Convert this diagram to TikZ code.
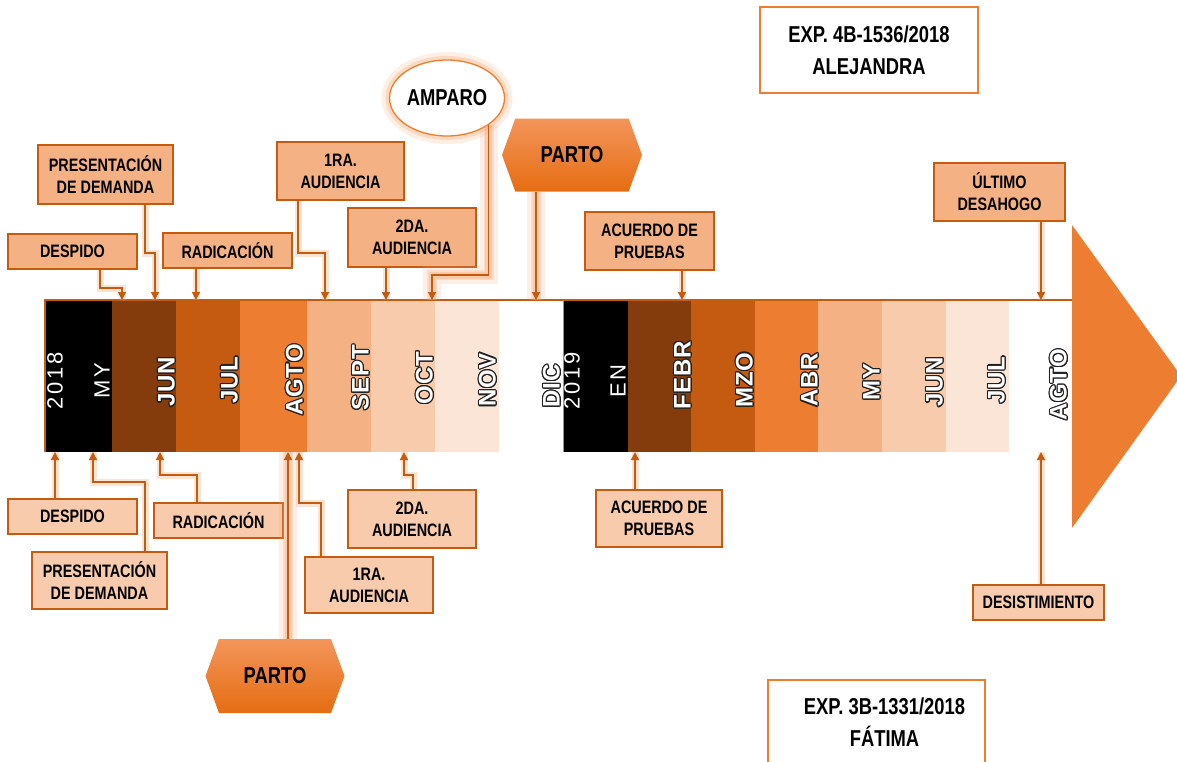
\documentclass[tikz,border=0pt]{standalone}
\usepackage{fontspec}
\setmainfont{Liberation Sans}
\newfontfamily\boxfont{Liberation Sans}[FakeStretch=0.8]
\newfontfamily\thinfont{Liberation Sans}[LetterSpace=12]
\newfontfamily\monfont{Liberation Sans}[LetterSpace=4]
\usepackage{contour}
\contourlength{1.1pt}
\usetikzlibrary{arrows.meta,shapes.geometric,shapes.symbols}
\definecolor{cDark}{HTML}{843C0C}
\definecolor{cMid}{HTML}{C55A11}
\definecolor{cOr}{HTML}{ED7D31}
\definecolor{cLt}{HTML}{F4B183}
\definecolor{cLtb}{HTML}{F8CBAD}
\definecolor{cLtc}{HTML}{FBE5D6}
\definecolor{hexTop}{HTML}{F3955A}
\definecolor{hexBot}{HTML}{E56D12}
\definecolor{glowc}{HTML}{F4A56E}
\definecolor{outl}{HTML}{202020}
\newcommand{\ol}[1]{\contour{outl}{#1}}
\begin{document}
\begin{tikzpicture}[x=1pt,y=-1pt,
  tbox/.style={draw=cMid, line width=1.3pt, fill=cLt, align=center, inner sep=0pt,
    font=\boxfont\bfseries\fontsize{18}{22}\selectfont},
  bbox/.style={tbox, fill=cLtb},
  expbox/.style={draw=cOr, line width=1.3pt, fill=white, align=center, inner sep=0pt,
    font=\boxfont\bfseries\fontsize{23}{32}\selectfont},
  hexa/.style={shape=signal, signal to=east and west, signal pointer angle=140,
    top color=hexTop, bottom color=hexBot, draw=none, inner sep=0pt,
    minimum width=140pt, minimum height=73pt,
    font=\boxfont\bfseries\fontsize{23}{26}\selectfont},
  mon/.style={rotate=90, inner sep=0pt, text=white,
    font=\monfont\bfseries\fontsize{24}{24}\selectfont},
  monthin/.style={rotate=90, inner sep=0pt, text=white,
    font=\thinfont\fontsize{22}{22}\selectfont},
  conn/.style={draw=cMid, line width=1.5pt, -{Triangle[length=8pt,width=8pt]},
    preaction={draw=glowc, line width=7pt, opacity=0.3, arrows=-}},
  bigconn/.style={conn, preaction={draw=glowc, line width=18pt, opacity=0.18, arrows=-},
    preaction={draw=glowc, line width=10pt, opacity=0.25, arrows=-}}
]
\useasboundingbox (0,0) rectangle (1177,761);

% ---- timeline segments ----
\fill[black]  (45,300) rectangle (112,452);
\fill[cDark]  (112,300) rectangle (176,452);
\fill[cMid]   (176,300) rectangle (240,452);
\fill[cOr]    (240,300) rectangle (307,452);
\fill[cLt]    (307,300) rectangle (371,452);
\fill[cLtb]   (371,300) rectangle (435,452);
\fill[cLtc]   (435,300) rectangle (499,452);
\fill[white]  (499,300) rectangle (563,452);
\fill[black]  (563,300) rectangle (628,452);
\fill[cDark]  (628,300) rectangle (691,452);
\fill[cMid]   (691,300) rectangle (755,452);
\fill[cOr]    (755,300) rectangle (818,452);
\fill[cLt]    (818,300) rectangle (882,452);
\fill[cLtb]   (882,300) rectangle (946,452);
\fill[cLtc]   (946,300) rectangle (1009,452);
\fill[white]  (1009,300) rectangle (1072,452);
\draw[cMid, line width=1.3pt] (45,452) -- (45,300) -- (1072,300);
\draw[cOr, line width=1pt] (563,300) -- (563,452);
\fill[cOr] (1072,225) -- (1181,376) -- (1072,528) -- cycle;

% ---- month labels ----
\node[monthin] (m1) at (55,381) {2018};
\node[monthin] (m2) at (102,381) {MY};
\node[mon] (m3) at (167,382) {\ol{JUN}};
\node[mon] (m4) at (230,380) {\ol{JUL}};
\node[mon] (m5) at (295,380) {\ol{AGTO}};
\node[mon] (m6) at (361,378) {\ol{SEPT}};
\node[mon] (m7) at (425,378) {\ol{OCT}};
\node[mon] (m8) at (488,380) {\ol{NOV}};
\node[mon] (m9) at (552,386) {\ol{DIC}};
\node[monthin] (m10) at (572,381) {2019};
\node[monthin] (m11) at (618,381) {EN};
\node[mon] (m12) at (683,375) {\ol{FEBR}};
\node[mon] (m13) at (745,380) {\ol{MZO}};
\node[mon] (m14) at (810,380) {\ol{ABR}};
\node[mon] (m15) at (872,382) {\ol{MY}};
\node[mon] (m16) at (935,382) {\ol{JUN}};
\node[mon] (m17) at (997,380) {\ol{JUL}};
\node[mon] (m18) at (1059,385) {\ol{AGTO}};

% ---- connector end points on the bar ----
\coordinate (ta1) at (122,300);
\coordinate (ta2) at (155,300);
\coordinate (ta3) at (196,300);
\coordinate (ta4) at (325,300);
\coordinate (ta5) at (386,300);
\coordinate (ta6) at (432,300);
\coordinate (ta7) at (536,300);
\coordinate (ta8) at (682,300);
\coordinate (ta9) at (1041,300);
\coordinate (ba1) at (55,452);
\coordinate (ba2) at (93,452);
\coordinate (ba3) at (160,452);
\coordinate (ba4) at (288,452);
\coordinate (ba5) at (299,452);
\coordinate (ba6) at (404,452);
\coordinate (ba7) at (635,452);
\coordinate (ba8) at (1041,452);

% ---- top nodes ----
\node[tbox, minimum width=129pt, minimum height=35pt] (tdesp) at (72.5,251.5) {DESPIDO};
\node[tbox, minimum width=135pt, minimum height=59pt] (tpres) at (105.5,174.5) {PRESENTACIÓN\\DE DEMANDA};
\node[tbox, minimum width=129pt, minimum height=35pt] (trad) at (227.5,250.5) {RADICACIÓN};
\node[tbox, minimum width=127pt, minimum height=58pt] (t1ra) at (340.5,171) {1RA.\\AUDIENCIA};
\node[tbox, minimum width=128pt, minimum height=59pt] (t2da) at (412,237.5) {2DA.\\AUDIENCIA};
\node[ellipse, draw=cOr, line width=1.3pt, fill=white, minimum width=115pt, minimum height=76pt,
  inner sep=0pt, font=\boxfont\bfseries\fontsize{23}{26}\selectfont,
  preaction={draw=glowc, line width=16pt, opacity=0.18},
  preaction={draw=glowc, line width=8pt, opacity=0.3}] (amparo) at (447,98) {AMPARO};
\node[hexa] (tparto) at (572,155) {PARTO};
\node[tbox, minimum width=129pt, minimum height=58pt] (tacu) at (649.5,241) {ACUERDO DE\\PRUEBAS};
\node[tbox, minimum width=131pt, minimum height=58pt] (tult) at (999.5,192) {ÚLTIMO\\DESAHOGO};
\node[expbox, minimum width=218pt, minimum height=86pt] (alej) at (869,50) {EXP. 4B-1536/2018\\ALEJANDRA};

% ---- bottom nodes ----
\node[bbox, minimum width=129pt, minimum height=35pt] (bdesp) at (72.5,516.5) {DESPIDO};
\node[bbox, minimum width=135pt, minimum height=57pt] (bpres) at (99.5,580.5) {PRESENTACIÓN\\DE DEMANDA};
\node[bbox, minimum width=129pt, minimum height=35pt] (brad) at (218.5,520.5) {RADICACIÓN};
\node[bbox, minimum width=128pt, minimum height=56pt] (b1ra) at (369,585) {1RA.\\AUDIENCIA};
\node[bbox, minimum width=128pt, minimum height=58pt] (b2da) at (412,519) {2DA.\\AUDIENCIA};
\node[hexa, minimum width=139pt, minimum height=74pt] (bparto) at (275,676) {PARTO};
\node[bbox, minimum width=126pt, minimum height=57pt] (bacu) at (659,518.5) {ACUERDO DE\\PRUEBAS};
\node[bbox, minimum width=131pt, minimum height=35pt] (bdes) at (1038.5,602.5) {DESISTIMIENTO};
\node[expbox, minimum width=217pt, minimum height=84pt] (fat) at (876.5,722) {\hspace*{16pt}EXP. 3B-1331/2018\\\hspace*{16pt}FÁTIMA};

% ---- top connectors ----
\draw[conn] ([xshift=27.5pt]tdesp.south) |- ([yshift=12pt]ta1) -- (ta1);
\draw[conn] ([xshift=39.5pt]tpres.south) |- ([yshift=47pt]ta2) -- (ta2);
\draw[conn] ([xshift=-31.5pt]trad.south) -- (ta3);
\draw[conn] ([xshift=-42.5pt]t1ra.south) |- ([yshift=47pt]ta4) -- (ta4);
\draw[conn] ([xshift=-26pt]t2da.south) -- (ta5);
\draw[bigconn] (amparo.-33) |- ([yshift=25pt]ta6) -- (ta6);
\draw[bigconn] ([xshift=-36pt]tparto.south) -- (ta7);
\draw[conn] ([xshift=32.5pt]tacu.south) -- (ta8);
\draw[conn] ([xshift=41.5pt]tult.south) -- (ta9);

% ---- bottom connectors ----
\draw[conn] ([xshift=-17.5pt]bdesp.north) -- (ba1);
\draw[conn] ([xshift=45.5pt]bpres.north) |- ([yshift=-30pt]ba2) -- (ba2);
\draw[conn] ([xshift=-21.5pt]brad.north) |- ([yshift=-23pt]ba3) -- (ba3);
\draw[bigconn] ([xshift=13pt]bparto.north) -- (ba4);
\draw[conn] ([xshift=-48pt]b1ra.north) |- ([yshift=-51pt]ba5) -- (ba5);
\draw[conn] ([xshift=1pt]b2da.north) |- ([yshift=-23pt]ba6) -- (ba6);
\draw[conn] ([xshift=-24pt]bacu.north) -- (ba7);
\draw[conn] ([xshift=2.5pt]bdes.north) -- (ba8);
\end{tikzpicture}
\end{document}
